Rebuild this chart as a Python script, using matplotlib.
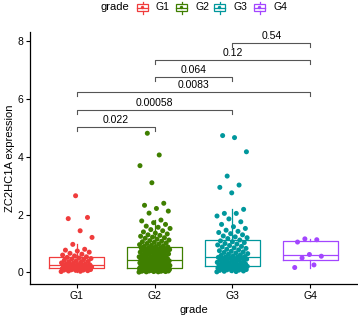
import numpy as np
import matplotlib
matplotlib.use("Agg")
import matplotlib.pyplot as plt
from matplotlib.patches import Rectangle

plt.rcParams['font.family'] = ['Liberation Sans', 'DejaVu Sans']

groups = ["G1", "G2", "G3", "G4"]
colors = ["#F03C3C", "#3F7F00", "#00979C", "#A346FF"]

g1 = [0.03, 0.04, 0.05, 0.06, 0.07, 0.08, 0.08, 0.09, 0.10, 0.10, 0.11, 0.12, 0.12, 0.13, 0.13,
      0.14, 0.15, 0.16, 0.17, 0.18, 0.18, 0.19, 0.20, 0.21, 0.22, 0.23, 0.24, 0.25, 0.26, 0.26,
      0.27, 0.29, 0.30, 0.32, 0.33, 0.35, 0.37, 0.38, 0.40, 0.42, 0.44, 0.46, 0.48, 0.50, 0.52,
      0.54, 0.57, 0.60, 0.63, 0.66, 0.70, 0.74, 0.77, 0.80, 0.97, 1.21, 1.44, 1.86, 1.90, 2.65]
g2 = [0.01, 0.02, 0.02, 0.03, 0.03, 0.04, 0.04, 0.05, 0.05, 0.06, 0.06, 0.06, 0.07, 0.07, 0.08,
      0.08, 0.08, 0.09, 0.09, 0.09, 0.10, 0.10, 0.10, 0.11, 0.11, 0.11, 0.12, 0.12, 0.12, 0.13,
      0.13, 0.13, 0.13, 0.14, 0.14, 0.14, 0.14, 0.15, 0.15, 0.15,
      0.16, 0.16, 0.17, 0.17, 0.18, 0.18, 0.19, 0.19, 0.20, 0.20, 0.21, 0.21, 0.22, 0.22, 0.23,
      0.24, 0.24, 0.25, 0.26, 0.26, 0.27, 0.28, 0.28, 0.29, 0.30, 0.31, 0.31, 0.32, 0.33, 0.34,
      0.35, 0.36, 0.37, 0.38, 0.39, 0.40, 0.40, 0.41, 0.42, 0.43,
      0.44, 0.45, 0.46, 0.47, 0.48, 0.50, 0.51, 0.52, 0.53, 0.54, 0.56, 0.57, 0.58, 0.59, 0.60,
      0.62, 0.63, 0.64, 0.65, 0.66, 0.68, 0.69, 0.70, 0.71, 0.72, 0.74, 0.75, 0.76, 0.77, 0.78,
      0.79, 0.80, 0.81, 0.82, 0.83, 0.84, 0.85, 0.86, 0.88, 0.89,
      0.90, 0.92, 0.94, 0.96, 0.98, 1.00, 1.02, 1.04, 1.06, 1.08, 1.10, 1.12, 1.15, 1.18, 1.20,
      1.22, 1.25, 1.28, 1.30, 1.33, 1.36, 1.40, 1.44, 1.48, 1.52, 1.56, 1.60, 1.66, 1.72, 1.78,
      1.81, 2.05, 2.12, 2.21, 2.32, 2.39, 3.10, 3.69, 4.06, 4.81]
g3 = [0.02, 0.03, 0.04, 0.05, 0.06, 0.07, 0.08, 0.09, 0.10, 0.11, 0.12, 0.13, 0.14, 0.15, 0.16,
      0.17, 0.17, 0.18, 0.19, 0.20, 0.20, 0.21, 0.22, 0.22, 0.23,
      0.24, 0.25, 0.26, 0.28, 0.29, 0.30, 0.31, 0.33, 0.34, 0.35, 0.37, 0.38, 0.39, 0.41, 0.42,
      0.43, 0.45, 0.46, 0.47, 0.48, 0.50, 0.51, 0.52, 0.53, 0.54,
      0.55, 0.57, 0.59, 0.61, 0.63, 0.65, 0.67, 0.69, 0.71, 0.73, 0.75, 0.78, 0.80, 0.83, 0.85,
      0.88, 0.90, 0.93, 0.95, 0.98, 1.00, 1.03, 1.06, 1.09, 1.12,
      1.17, 1.20, 1.23, 1.26, 1.30, 1.34, 1.38, 1.42, 1.46, 1.52, 1.58, 1.66, 1.75, 1.85, 1.95,
      2.04, 2.04, 2.18, 2.75, 2.94, 3.02, 3.33, 4.17, 4.66, 4.73]
g4 = [0.17, 0.26, 0.50, 0.56, 0.62, 1.05, 1.13, 1.16]
values = [g1, g2, g3, g4]

# pairwise comparisons: (group a, group b, p label, bracket height)
comparisons = [(1, 2, "0.022", 5.04), (1, 3, "0.00058", 5.62), (1, 4, "0.0083", 6.23),
               (2, 3, "0.064", 6.77), (2, 4, "0.12", 7.35), (3, 4, "0.54", 7.94)]

fig = plt.figure(figsize=(3.58, 3.15), dpi=100)
ax = fig.add_axes([30 / 358, 31 / 315, 327 / 358, 252 / 315])

for i, (vals, col) in enumerate(zip(values, colors)):
    pos = i + 1
    ax.boxplot([vals], positions=[pos], widths=0.7, showfliers=False,
               boxprops=dict(color=col, linewidth=0.9),
               medianprops=dict(color=col, linewidth=0.9),
               whiskerprops=dict(color=col, linewidth=0.9),
               capprops=dict(linewidth=0), manage_ticks=False)
    n = len(vals)
    # deterministic jitter
    offs = ((np.arange(n) * 0.618034) % 1 - 0.5) * 0.4
    ax.scatter(pos + offs, vals, s=13, color=col, edgecolors='none', zorder=3)

for a, b, lab, h in comparisons:
    ax.plot([a, a, b, b], [h - 0.14, h, h, h - 0.14], color="#555555", lw=0.8)
    ax.text((a + b) / 2, h + 0.06, lab, ha='center', va='bottom', fontsize=7.5)

ax.set_xlim(0.4, 4.6)
ax.set_ylim(-0.4, 8.31)
ax.set_xticks(range(1, 5))
ax.set_xticklabels(groups)
ax.set_yticks([0, 2, 4, 6, 8])
ax.tick_params(labelsize=7.5, length=3, width=0.8, colors='black', pad=2)
for s in ['top', 'right']:
    ax.spines[s].set_visible(False)
for s in ['left', 'bottom']:
    ax.spines[s].set_linewidth(0.9)
ax.set_xlabel("grade", fontsize=8, labelpad=3)
ax.set_ylabel("ZC2HC1A expression", fontsize=8)
ax.yaxis.set_label_coords(-0.047, 0.5)

# legend strip at top
lax = fig.add_axes([0, 0, 1, 1], facecolor='none')
lax.set_xlim(0, 358)
lax.set_ylim(315, 0)
lax.axis('off')
lax.text(115, 7.5, "grade", ha='center', va='center', fontsize=8)
key_x = [137, 176, 214, 254]
for kx, g, col in zip(key_x, groups, colors):
    lax.add_patch(Rectangle((kx, 4), 11, 7, fill=False, edgecolor=col, lw=0.9))
    lax.plot([kx, kx + 11], [7.5, 7.5], color=col, lw=0.9)
    lax.plot([kx + 5.5, kx + 5.5], [1.5, 4], color=col, lw=0.9)
    lax.plot([kx + 5.5, kx + 5.5], [11, 13.5], color=col, lw=0.9)
    lax.scatter([kx + 5.5], [7.5], s=6, color=col, edgecolors='none')
    lax.text(kx + 19, 7.5, g, ha='left', va='center', fontsize=7.5)

fig.savefig("out.png", dpi=100)
